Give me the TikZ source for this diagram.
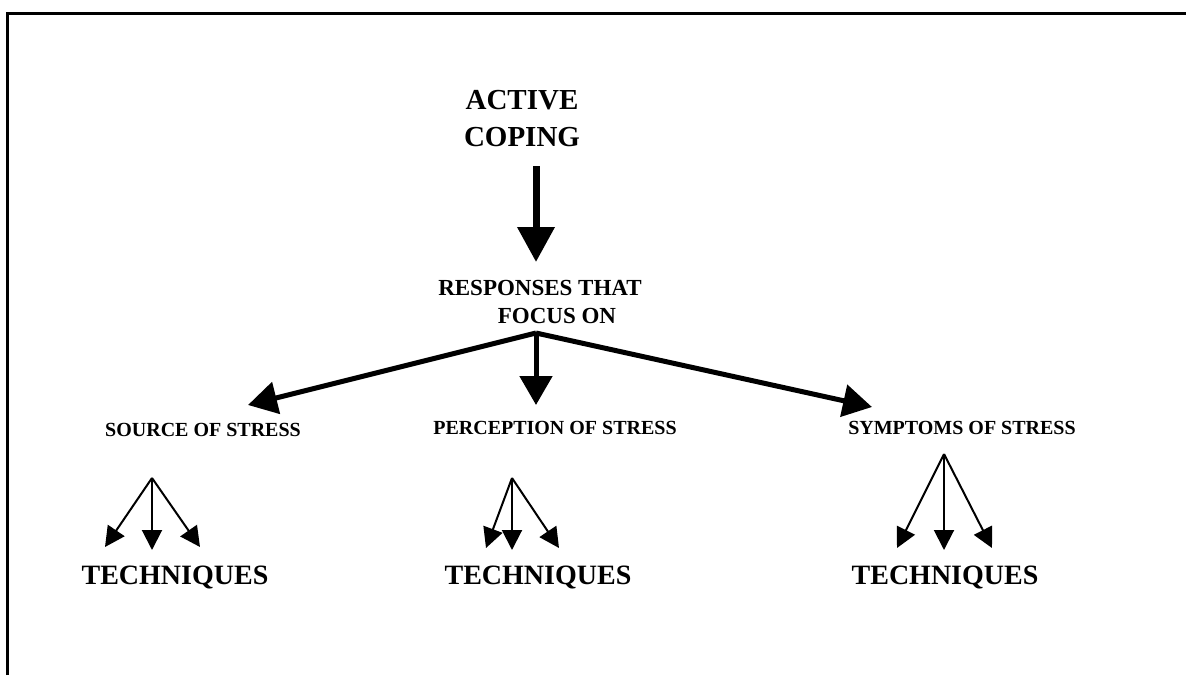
\documentclass[tikz,border=0pt]{standalone}
\usepackage{fontspec}
\setmainfont{Liberation Serif}
\usepackage{tikz}
\usetikzlibrary{arrows.meta}
\tikzstyle{title} = [font=\bfseries\fontsize{29}{37}\selectfont, align=center, inner sep=0pt]
\tikzstyle{focus} = [font=\bfseries\fontsize{23}{28}\selectfont, align=center, inner sep=0pt]
\tikzstyle{target} = [font=\bfseries\fontsize{20}{24}\selectfont, inner sep=0pt]
\tikzstyle{tech} = [font=\bfseries\fontsize{28}{30}\selectfont, inner sep=0pt]
\tikzstyle{bigarrow} = [line width=7pt, -{Triangle[length=35pt,width=36pt]}]
\tikzstyle{arrow} = [line width=5pt, -{Triangle[length=29pt,width=32pt]}]
\tikzstyle{thinarrow} = [line width=2pt, -{Triangle[length=20pt,width=20pt]}]

\begin{document}
\begin{tikzpicture}[x=1pt, y=-1pt]
            \useasboundingbox (0,0) rectangle (1186,675);
            \draw [line width=3pt] (7,675) -- (7,13) -- (1186,13);

            \node (active) [title] at (522,119) {ACTIVE\\COPING};
            \node (responses) [focus] at (540,302) {RESPONSES THAT\\\hspace*{34pt}FOCUS ON};
            \node (source) [target] at (203,430) {SOURCE OF STRESS};
            \node (perception) [target] at (555,428) {PERCEPTION OF STRESS};
            \node (symptoms) [target] at (962,428) {SYMPTOMS OF STRESS};
            \node (tech-source) [tech] at (175,577) {TECHNIQUES};
            \node (tech-perception) [tech] at (538,577) {TECHNIQUES};
            \node (tech-symptoms) [tech] at (945,577) {TECHNIQUES};

            % main arrow and fork
            \coordinate (active-out) at (536,166);
            \coordinate (responses-in) at (536,262);
            \coordinate (fork) at (536,333);
            \coordinate (source-in) at (248,405);
            \coordinate (perception-in) at (536,405);
            \coordinate (symptoms-in) at (872,407);

            % technique fans
            \coordinate (source-out) at (152,478);
            \coordinate (perception-out) at (512,478);
            \coordinate (symptoms-out) at (944,454);

            \draw [bigarrow] (active-out) -- (responses-in);
            \draw [arrow] (fork) -- (source-in);
            \draw [arrow] (fork) -- (perception-in);
            \draw [arrow] (fork) -- (symptoms-in);

            \draw [thinarrow] (source-out) -- (105,547);
            \draw [thinarrow] (source-out) -- (152,550);
            \draw [thinarrow] (source-out) -- (200,547);
            \draw [thinarrow] (perception-out) -- (486,548);
            \draw [thinarrow] (perception-out) -- (512,550);
            \draw [thinarrow] (perception-out) -- (559,548);
            \draw [thinarrow] (symptoms-out) -- (897,548);
            \draw [thinarrow] (symptoms-out) -- (944,550);
            \draw [thinarrow] (symptoms-out) -- (992,548);
        \end{tikzpicture}
\end{document}
